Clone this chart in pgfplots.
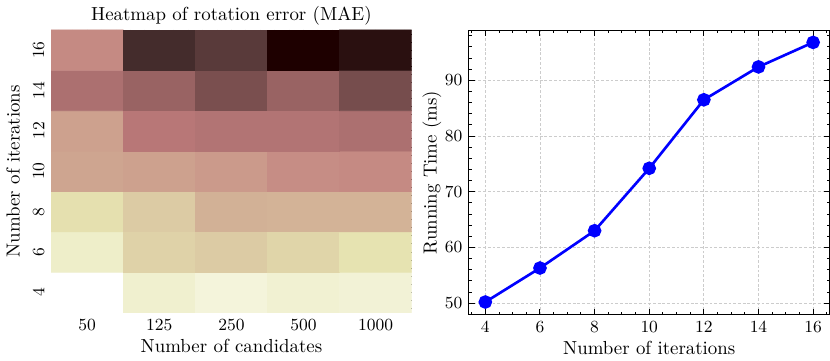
\documentclass[border=0pt]{standalone}
\usepackage{pgfplots}
\usepackage{pgfplotstable}
\pgfplotsset{compat=1.18}

% normalised MAE (0 = lowest, 1 = highest), x = candidates index, y = iterations index
\pgfplotstableread{
x y c
0 0 0.00
1 0 0.17
2 0 0.13
3 0 0.16
4 0 0.15
0 1 0.19
1 1 0.35
2 1 0.38
3 1 0.34
4 1 0.28
0 2 0.29
1 2 0.38
2 2 0.48
3 2 0.47
4 2 0.47
0 3 0.52
1 3 0.53
2 3 0.55
3 3 0.59
4 3 0.60
0 4 0.53
1 4 0.67
2 4 0.69
3 4 0.69
4 4 0.71
0 5 0.71
1 5 0.77
2 5 0.85
3 5 0.77
4 5 0.86
0 6 0.60
1 6 0.955
2 6 0.92
3 6 1.00
4 6 0.99
}\maedata

\pgfplotstableread{
iter time
4  50.2
6  56.3
8  63.0
10 74.2
12 86.5
14 92.4
16 96.8
}\timedata

\pgfplotsset{
  colormap={pinkr}{
    rgb(0pt)=(1,1,1); rgb(75pt)=(0.975,0.975,0.923); rgb(150pt)=(0.949,0.949,0.838);
    rgb(254pt)=(0.911,0.911,0.705); rgb(320pt)=(0.887,0.854,0.673);
    rgb(400pt)=(0.856,0.778,0.632); rgb(500pt)=(0.816,0.672,0.577);
    rgb(635pt)=(0.759,0.493,0.493); rgb(700pt)=(0.688,0.447,0.447);
    rgb(800pt)=(0.562,0.365,0.365); rgb(900pt)=(0.397,0.258,0.258);
    rgb(950pt)=(0.281,0.183,0.183); rgb(984pt)=(0.195,0.102,0.102);
    rgb(1000pt)=(0.118,0,0)
  },
  sci/.style={
    scale only axis,
    tick align=inside,
    xtick pos=both, ytick pos=both,
    major tick length=3pt, minor tick length=1.5pt,
    tick style={black, line width=0.5pt},
    axis line style={line width=0.5pt},
    tick label style={font=\small},
    label style={font=\normalsize},
    xlabel shift=-2.5pt,
  },
}

\begin{document}
\begin{tikzpicture}
\begin{axis}[
  sci,
  at={(0,0)},
  width=191pt, height=149.7pt,
  title={Heatmap of rotation error (MAE)},
  title style={yshift=-7pt},
  colormap name=pinkr,
  point meta min=0, point meta max=1,
  xmin=-0.5, xmax=4.5, ymin=-0.5, ymax=6.5,
  xtick={0,...,4}, xticklabels={50,125,250,500,1000},
  ytick={0,...,6}, yticklabels={4,6,8,10,12,14,16},
  minor xtick={-0.4,-0.2,...,4.45},
  minor ytick={-0.4,-0.2,...,6.45},
  yticklabel style={rotate=90, anchor=south},
  axis line style={draw=none},
  xlabel={Number of candidates},
  ylabel={Number of iterations},
]
\addplot[matrix plot*, mesh/cols=5, point meta=explicit]
  table[x=x, y=y, meta=c] {\maedata};
\end{axis}

\begin{axis}[
  sci,
  at={(221.3pt,-1.2pt)},
  width=191pt, height=150.8pt,
  xmin=3.4, xmax=16.6, ymin=47.9, ymax=99.0,
  xtick={4,6,...,16}, ytick={50,60,...,90},
  minor xtick={3.5,4,...,16.5},
  minor ytick={48,50,...,98},
  grid=major,
  grid style={dash pattern=on 1.5pt off 1pt, gray!40, line width=0.4pt},
  ylabel shift=-5pt,
  xlabel={Number of iterations},
  ylabel={Running Time (ms)},
]
\addplot[blue, line width=1.4pt, mark=*, mark size=2.9pt, mark options={fill=blue}]
  table[x=iter, y=time] {\timedata};
\end{axis}
\end{tikzpicture}
\end{document}
